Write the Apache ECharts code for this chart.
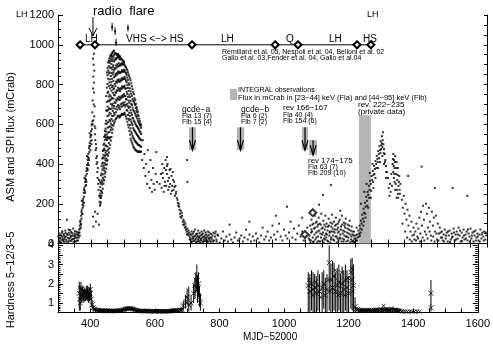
<!DOCTYPE html>
<html><head><meta charset="utf-8">
<script src="https://cdn.jsdelivr.net/npm/echarts@6/dist/echarts.min.js"></script>
<style>html,body{margin:0;padding:0;background:#fff}#c{width:493px;height:347px}</style>
</head><body><div id="c"></div>
<script>
// ---------------- DATA ----------------
const xTickLabels = [400, 600, 800, 1000, 1200, 1400, 1600];
const fluxTickLabels = ['0', '200', '400', '600', '800', '1000', '1200'];
const hardTickLabels = ['1', '2', '3', '4'];

// ASM flux (mCrab) vs MJD-52000
const asmQuiet = [[304,25],[306,8],[308,42],[310,18],[312,55],[314,30],[316,12],[318,40],[320,22],[322,65],[324,35],[326,10],[327,120],[328,48],[330,28],[332,70],[334,15],[336,45],[338,32],[340,58],[342,20],[344,40],[346,75],[348,25],[350,50],[352,35],[354,10],[356,60],[358,30],[360,45],
[301,35],[303,12],[305,50],[307,28],[309,5],[311,38],[313,62],[315,20],[317,48],[319,8],[321,33],[323,52],[325,18],[329,42],[331,6],[333,55],[335,25],[337,68],[339,12],[341,38],[343,52],[345,22],[347,8],[349,40],[351,62],[353,28],[355,45],[357,15],[359,55]];
const asmRise = [[361,15],[362,40],[363,30],[364,70],[365,55],[366,90],[367,75],[368,115],[369,100],[370,140],[371,125],[372,170],[373,150],[374,195],[375,180],[376,225],[377,205],[378,255],[379,235],[380,280],[381,265],[382,310],[383,290],[384,340],[385,320],[386,365],[387,350],[388,395],[389,375],[390,420],[391,405],[392,450],[393,430],[394,480],[395,460],[396,505],[397,490],[398,535],[399,515],[400,565],[401,545],[402,595],[403,575],[404,615],[366,40],[370,95],[374,150],[378,205],[382,255],[386,310],[390,370],[394,420],[398,470],[402,520],[372,215],[380,330],[388,440],[396,555],
[363,55],[367,110],[371,160],[375,215],[379,270],[383,325],[387,380],[391,435],[395,490],[399,545],[403,600],[369,80],[377,190],[385,295],[393,395],[401,500]];
const asmSpike = [[404,660],[405,720],[406,780],[407,840],[408,900],[409,955],[408,700],[407,620],[409,760],[410,870],[406,930],[410,640],[411,690],[405,600],[409,810]];
const asmDrop = [[411,590],[412,550],[413,520],[414,470],[415,500],[416,430],[417,400],[418,440],[419,360],[420,330],[421,380],[422,300],[423,270],[424,320],[425,240],[426,210],[427,190],[428,230],[413,580],[416,480],[419,410],[406,135],[407,85],[412,160],[415,110],[420,150],[424,95]];
// main outburst: [MJD, flux] columns
const asmHump = [
[428,197],[428,238],[428,251],[428,284],[428,309],
[430,206],[430,229],[430,266],[430,301],[430,343],
[432,241],[432,262],[432,318],[432,352],[432,389],
[434,255],[434,297],[434,309],[434,371],[434,402],[434,428],
[436,276],[436,331],[436,348],[436,407],[436,433],[436,466],
[438,301],[438,322],[438,379],[438,392],[438,446],[438,471],[438,497],
[440,318],[440,367],[440,381],[440,429],[440,478],[440,503],[440,536],
[442,336],[442,352],[442,404],[442,441],[442,469],[442,522],[442,548],[442,566],
[444,361],[444,396],[444,418],[444,457],[444,493],[444,541],[444,577],[444,603],
[446,377],[446,428],[446,446],[446,492],[446,531],[446,563],[446,618],[446,671],[446,742],
[448,398],[448,417],[448,466],[448,521],[448,548],[448,603],[448,667],[448,712],[448,784],[448,861],
[450,419],[450,451],[450,488],[450,536],[450,583],[450,641],[450,689],[450,758],[450,803],[450,847],[450,884],
[452,441],[452,473],[452,529],[452,558],[452,611],[452,672],[452,718],[452,764],[452,829],[452,871],[452,912],
[454,458],[454,506],[454,533],[454,587],[454,646],[454,681],[454,739],[454,792],[454,856],[454,893],[454,921],
[456,479],[456,528],[456,561],[456,622],[456,658],[456,716],[456,749],[456,811],[456,862],[456,909],[456,932],
[458,497],[458,534],[458,589],[458,617],[458,677],[458,724],[458,781],[458,826],[458,884],[458,917],[458,943],
[460,518],[460,571],[460,604],[460,653],[460,702],[460,741],[460,797],[460,843],[460,886],[460,927],[460,948],
[462,536],[462,583],[462,627],[462,679],[462,726],[462,769],[462,812],[462,858],[462,903],[462,936],[462,953],
[464,557],[464,596],[464,642],[464,694],[464,733],[464,787],[464,829],[464,876],[464,918],[464,944],[464,959],
[466,574],[466,618],[466,667],[466,703],[466,758],[466,794],[466,851],[466,889],[466,927],[466,962],
[468,593],[468,642],[468,681],[468,729],[468,776],[468,818],[468,862],[468,897],[468,938],[468,968],
[470,604],[470,657],[470,692],[470,748],[470,781],[470,837],[470,874],[470,916],[470,948],[470,971],
[472,613],[472,649],[472,711],[472,746],[472,803],[472,841],[472,883],[472,922],[472,957],
[474,624],[474,678],[474,707],[474,761],[474,792],[474,852],[474,879],[474,931],[474,958],
[476,628],[476,661],[476,723],[476,759],[476,814],[476,846],[476,896],[476,928],[476,955],
[478,633],[478,689],[478,718],[478,771],[478,809],[478,858],[478,887],[478,934],[478,951],
[480,639],[480,674],[480,731],[480,768],[480,822],[480,851],[480,902],[480,937],[480,949],
[482,642],[482,697],[482,728],[482,784],[482,817],[482,866],[482,893],[482,941],[482,954],
[484,644],[484,683],[484,739],[484,772],[484,826],[484,859],[484,907],[484,938],[484,946],
[486,634],[486,691],[486,722],[486,779],[486,813],[486,864],[486,892],[486,929],[486,944],
[488,638],[488,676],[488,734],[488,768],[488,821],[488,857],[488,898],[488,926],[488,941],
[490,643],[490,701],[490,729],[490,782],[490,817],[490,861],[490,904],[490,933],
[492,648],[492,688],[492,741],[492,776],[492,829],[492,864],[492,897],[492,930],
[494,653],[494,704],[494,736],[494,791],[494,823],[494,872],[494,908],[494,926],
[496,648],[496,693],[496,747],[496,782],[496,834],[496,867],[496,901],[496,922],
[498,649],[498,708],[498,738],[498,789],[498,827],[498,863],[498,906],[498,918],
[500,653],[500,697],[500,751],[500,786],[500,831],[500,874],[500,902],[500,913],
[502,658],[502,711],[502,743],[502,794],[502,838],[502,869],[502,897],
[504,648],[504,689],[504,742],[504,779],[504,828],[504,862],[504,891],
[506,639],[506,698],[506,727],[506,781],[506,819],[506,857],[506,887],
[508,628],[508,672],[508,724],[508,763],[508,812],[508,849],[508,878],
[510,613],[510,668],[510,703],[510,752],[510,797],[510,836],[510,872],
[512,598],[512,647],[512,691],[512,738],[512,783],[512,824],[512,862],
[514,584],[514,628],[514,682],[514,719],[514,768],[514,807],[514,851],
[516,567],[516,621],[516,658],[516,709],[516,749],[516,798],[516,842],
[518,548],[518,597],[518,643],[518,688],[518,737],[518,781],[518,831],
[520,528],[520,579],[520,624],[520,671],[520,718],[520,766],[520,821],
[522,518],[522,562],[522,613],[522,658],[522,703],[522,754],[522,806],
[524,507],[524,553],[524,604],[524,647],[524,697],[524,743],[524,791],
[526,498],[526,541],[526,596],[526,633],[526,684],[526,728],[526,777],
[528,488],[528,532],[528,581],[528,629],[528,673],[528,719],[528,762],
[530,483],[530,527],[530,572],[530,618],[530,667],[530,713],[530,752],
[532,477],[532,519],[532,568],[532,612],[532,659],[532,704],[532,731],
[534,472],[534,514],[534,563],[534,604],[534,653],[534,697],[534,722],
[536,469],[536,511],[536,557],[536,598],[536,644],[536,682],[536,703],
[538,467],[538,506],[538,552],[538,591],[538,637],[538,669],[538,687],
[540,464],[540,503],[540,546],[540,588],[540,629],[540,661],[540,676],
[542,461],[542,498],[542,541],[542,582],[542,618],[542,648],[542,663],
[544,463],[544,496],[544,537],[544,576],[544,611],[544,642],
[546,463],[546,494],[546,531],[546,569],[546,603],[546,628],
[548,461],[548,492],[548,527],[548,563],[548,597],[548,616],
[550,461],[550,489],[550,524],[550,558],[550,589],[550,604],
[552,463],[552,487],[552,519],[552,551],[552,582],[552,597]];
const asmDecline = [[555,420],[557,520],[560,380],[562,450],[565,340],[567,400],[570,300],[572,470],[575,360],[578,280],[580,420],[583,320],[585,260],[588,380],[590,300],[593,270],[596,350],[598,460],[600,310],
[608,300],[612,350],[614,280],[616,400],[618,330],[620,260],[622,380],[624,310],[626,420],[628,290],[630,350],[632,400],[634,270],[636,330],[638,370],[640,300],[642,250],[644,340],[646,290],[648,360],[650,270],[652,310],[654,240],[656,290],[658,260],[660,230],[630,435],[630,390],
[617,355],[623,290],[627,370],[633,315],[637,285],[641,375],[645,265],[649,320],[653,285],[657,250],
[662,220],[664,190],[666,200],[668,170],[670,150],[672,165],[674,130],[676,140],[678,110],[680,120],[682,95],[684,80],[686,100],[688,70],[690,60],[692,75],[694,50],[696,40],[698,55],[700,30],[691,420],[692,310],
[663,205],[667,185],[671,135],[675,155],[679,95],[683,110],[687,85],[691,45],[695,65],[699,20]];
const asmLow = [[702,20],[704,45],[706,10],[708,35],[710,25],[712,60],[714,15],[716,40],[718,5],[720,30],[722,50],[724,20],[726,10],[728,35],[730,15],[733,25],[736,45],[740,10],[744,30],[748,20],[752,5],[756,25],[760,15],
[701,45],[703,8],[705,60],[707,25],[709,50],[711,12],[713,35],[715,70],[717,22],[719,48],[721,10],[723,38],[725,65],[727,28],[729,52],[731,5],[732,40],[734,18],[735,60],[737,30],[738,8],[739,50],[741,35],[742,20],[743,65],[745,12],[746,40],[747,55],[749,28],[750,45],[751,15],[753,35],[754,60],[755,10],[757,42],[758,25],[759,55],[761,30],[763,8],[764,48],[766,20],[768,40],[771,55],[773,15],[776,35],[778,60],[781,10],[783,45],
[765,30],[770,10],[775,50],[780,20],[785,40],[790,5],[795,25],[800,60],[805,15],[810,35],[815,10],[820,45],[825,20],[830,5],[835,30],[840,55],[845,15],[850,25],[855,40],[860,10],[865,30],[870,70],[875,20],[880,45],[885,10],[890,35],[895,15],[900,50],[905,25],[910,5],[915,40],[920,80],[925,20],[930,35],[935,60],[940,15],[945,30],[950,90],[955,45],[960,20],[965,60],[970,100],[975,35],[980,15],[985,70],[990,40],[995,25],[1000,55],[1005,110],[1010,30],[1015,75],[1020,20],[1025,50],[1030,90],[1035,35],[1040,60],[1045,15],[1050,40],[1055,80],[1060,25],
[1062,40],[1064,90],[1066,15],[1068,120],[1070,60],[1072,30],[1074,100],[1076,75],[1078,140],[1080,20],[1082,55],[1084,110],[1086,85],[1088,35],[1090,130],[1092,65],[1094,10],[1096,95],[1098,150],[1100,45],[1102,80],[1104,115],[1106,25],[1108,70],[1110,140],[1112,50],[1114,100],[1116,15],[1118,85],[1120,125],[1122,40],[1124,60],[1126,105],[1128,30],[1130,145],[1132,75],[1134,20],[1136,110],[1138,55],[1140,90],[1142,130],[1144,35],[1146,70],[1148,100],[1150,15],[1152,60],[1154,120],[1156,45],[1158,85],[1160,140],[1162,25],[1164,65],[1166,105],[1168,40],[1170,80],[1172,125],[1174,10],[1176,55],[1178,95],[1180,30],[1182,70],[1184,115],[1186,45],[1188,20],[1190,85],[1192,60],[1194,10],[1196,40],[1198,25],
[1065,5],[1075,10],[1085,5],[1095,50],[1105,5],[1115,45],[1125,5],[1135,60],[1145,5],[1155,25],[1165,10],[1175,35],[1185,5],[1195,15],[1068,70],[1088,95],[1108,40],[1128,85],[1148,55],[1168,90],
[1063,18],[1067,55],[1071,95],[1073,8],[1077,45],[1079,80],[1081,105],[1083,30],[1087,60],[1089,12],[1093,100],[1097,30],[1099,75],[1101,15],[1103,55],[1107,95],[1109,20],[1111,85],[1113,30],[1117,65],[1119,10],[1121,90],[1123,55],[1127,20],[1129,60],[1131,100],[1133,40],[1137,15],[1139,70],[1141,35],[1143,95],[1147,25],[1149,80],[1151,110],[1153,30],[1157,70],[1159,10],[1161,95],[1163,50],[1167,20],[1169,60],[1171,100],[1173,35],[1177,75],[1179,15],[1181,50],[1183,90],[1187,65],[1189,35],[1191,10],[1193,45],[1197,60],[1199,5],
[994,185],[1091,195],[1103,245],[1127,295],[1155,165],[1040,130],[960,140],[880,110],[820,95]];
const asmRise2 = [[1200,8],[1202,25],[1204,15],[1206,45],[1208,30],[1210,65],[1212,50],[1214,90],[1216,75],[1218,115],[1220,100],[1222,145],[1224,125],[1226,175],[1228,155],[1230,205],[1232,185],[1234,235],[1236,215],[1238,260],[1240,245],[1242,290],[1244,270],[1246,315],[1248,300],[1250,340],[1252,320],[1254,365],[1256,345],[1258,390],[1260,375],[1262,415],[1264,400],[1266,440],[1268,425],[1270,465],[1272,450],[1274,490],[1276,470],[1278,515],[1280,495],[1282,540],[1284,520],[1286,500],[1288,475],[1290,450],[1292,420],[1294,390],[1296,360],
[1205,80],[1215,40],[1225,90],[1232,130],[1240,180],[1248,230],[1256,280],[1262,330],[1270,380],[1276,410],[1283,440],[1288,400],[1294,330],[1235,300],[1245,355],[1253,400],[1228,260],[1218,200],[1285,560],
[1201,40],[1207,15],[1211,35],[1217,55],[1221,70],[1227,110],[1231,150],[1237,190],[1243,230],[1249,265],[1255,310],[1259,350],[1265,380],[1269,410],[1273,430],[1277,455],[1279,475],[1281,505],[1283,485],[1287,455],[1291,410],[1295,360]];
const asmBranch2 = [[1300,330],[1302,280],[1304,240],[1306,300],[1308,260],[1310,350],[1312,290],[1314,400],[1316,450],[1318,420],[1320,380],[1322,440],[1324,350],[1326,410],[1328,320],[1330,380],[1332,290],[1334,340],[1336,250],[1338,300],[1318,330],[1322,270],[1326,230],[1330,250],[1316,360],[1320,310],
[1315,425],[1317,390],[1319,350],[1321,410],[1323,300],[1325,380],[1327,270],[1329,345],[1331,230],[1333,310],[1335,270]];
const asmTail = [[1342,220],[1345,180],[1348,240],[1350,150],[1353,200],[1356,120],[1359,170],[1361,340],[1362,90],[1365,140],[1368,60],[1371,110],[1374,40],[1377,80],[1380,20],[1383,60],[1386,100],[1389,35],[1392,75],[1395,130],[1398,50],[1402,387],[1400,160],[1403,90],[1406,190],[1409,120],[1412,60],[1415,200],[1418,150],[1421,80],[1424,180],[1427,110],[1430,40],[1433,160],[1436,90],[1439,130],[1442,280],[1442,60],[1445,140],[1448,20],[1451,100],[1454,50],[1457,80],[1460,30],[1463,60],[1466,15],[1469,45],[1472,70],[1475,25],[1478,55],[1481,10],[1484,40],[1487,65],[1490,20],[1493,50],[1496,280],[1496,35],[1499,75],[1502,15],[1505,45],[1508,60],[1511,25],[1514,80],[1517,40],[1520,10],[1523,55],[1526,30],[1529,70],[1532,20],[1535,45],[1538,60],[1540,240],[1541,15],[1544,50],[1547,35],[1550,75],[1553,25],[1556,55],[1559,10],[1562,40],[1565,65],[1568,30],[1571,50],[1574,15],[1577,45],[1580,70],[1583,25],[1586,55],[1589,35],[1592,60],[1595,20],[1598,40],
[1344,100],[1352,60],[1358,30],[1366,20],[1372,10],[1379,45],[1385,15],[1391,25],[1397,10],[1405,30],[1410,15],[1416,45],[1420,25],[1426,60],[1431,15],[1437,35],[1441,10],[1447,50],[1453,15],[1459,55],[1464,30],[1470,10],[1476,40],[1482,60],[1488,8],[1494,30],[1500,55],[1506,20],[1512,45],[1518,65],[1524,12],[1530,40],[1536,25],[1542,70],[1548,10],[1554,40],[1560,60],[1566,15],[1572,35],[1578,10],[1584,45],[1590,15],[1596,55]];
const asmHighErr = [[464,1090,1070,1110],[473,1068,1050,1088],[512,1085,1068,1102],[476,1010,995,1030]];

const spiPoints = [[1048,45],[1072,155]];
const stateX = [367,412,706,958,1027,1206,1248];
const stateLevel = 1000;
// INTEGRAL observation markers: [mjdStart, mjdEnd, fluxLow, fluxHigh]
const integralBars = [[697,718,470,585],[842,864,470,585],[1039,1058,470,585],[1061,1085,445,520]];
const privateBar = [[1212,1248,0,645]];
const radioFlare = [[406,1140,1045]];

// Hardness 5-12/3-5: [mjd, value, low, high]
const hardErr = [[366,1.5,0.6,2.1],[369,1.0,0.6,1.6],[371,1.7,1.2,2.1],[374,1.4,1.0,1.8],[377,1.6,1.2,1.9],[380,1.3,1.0,1.7],[383,1.5,1.1,1.8],[386,1.4,1.1,1.7],[389,1.6,1.2,1.9],[392,1.5,1.1,1.9],[395,1.3,1.0,1.6],[398,1.5,1.1,1.8],[400,1.7,1.3,2.0],[403,1.2,0.9,1.6],[406,0.9,0.7,1.1],[409,0.75,0.6,0.9],
[688,0.85,0.6,1.1],[695,1.05,0.7,1.4],[700,1.3,0.9,1.75],[705,0.9,0.55,1.85],[712,1.0,0.6,1.4],[720,1.5,1.0,2.0],[724,1.9,1.2,2.3],[727,2.2,1.5,2.6],[730,2.4,1.6,3.0],[732,1.7,1.0,2.4],[735,2.0,1.3,2.6],[738,1.3,0.8,1.9],[741,1.0,0.6,1.5],
[1075,1.9,0.5,2.6],[1080,1.6,0.5,2.5],[1085,2.0,0.6,2.7],[1090,1.7,0.5,2.6],[1095,1.8,0.5,2.5],[1100,1.5,0.5,2.4],[1105,1.9,0.6,2.7],[1110,1.6,0.5,2.5],[1118,1.8,0.5,2.6],[1123,2.0,0.7,2.7],[1128,1.4,0.5,2.3],[1133,1.7,0.5,2.5],[1140,3.1,0.6,4.0],[1145,2.2,0.5,3.0],[1150,1.8,0.5,3.2],[1155,2.4,0.6,3.1],[1160,1.6,0.5,2.6],[1165,1.9,0.5,2.8],[1170,2.1,0.6,3.0],[1175,1.5,0.5,2.5],[1180,2.0,0.5,2.9],[1185,1.7,0.5,2.7],[1190,2.2,0.6,3.0],[1195,1.8,0.5,2.7],[1200,1.5,0.5,2.4],[1207,2.6,0.7,3.3],[1211,2.2,0.6,3.35],[1215,1.9,0.5,3.0],[1220,0.8,0.5,1.3],
[1455,1.5,0.9,2.2],[1455,0.75,0.55,0.95]];
const hardPts = [[367,1.2],[368,1.8],[372,1.3],[375,1.75],[378,1.2],[381,1.6],[384,1.35],[387,1.55],[390,1.25],[393,1.7],[396,1.45],[399,1.3],
[412,0.7],[416,0.65],[420,0.62],[424,0.6],[428,0.63],[432,0.58],[436,0.61],[440,0.57],[444,0.6],[448,0.58],[452,0.6],[456,0.57],[460,0.59],[464,0.56],[468,0.58],[472,0.6],[476,0.57],[480,0.59],[484,0.58],[488,0.6],[492,0.61],[496,0.6],[500,0.63],[504,0.65],[508,0.68],[512,0.7],[516,0.72],[520,0.7],[524,0.73],[528,0.69],[532,0.7],[536,0.66],[540,0.63],[544,0.6],[548,0.58],[552,0.6],[556,0.57],[560,0.59],[564,0.56],[568,0.58],[572,0.57],[576,0.6],[580,0.58],[584,0.56],[588,0.57],[592,0.55],[596,0.57],[600,0.56],[604,0.58],[608,0.57],[612,0.55],[616,0.56],[620,0.58],[624,0.56],[628,0.55],[632,0.57],[636,0.56],[640,0.58],[644,0.56],[648,0.57],[652,0.6],[656,0.58],[660,0.61],[664,0.59],[668,0.62],[672,0.6],[676,0.64],[680,0.62],[684,0.66],
[414,0.67],[418,0.6],[422,0.64],[426,0.59],[430,0.6],[434,0.62],[438,0.58],[442,0.6],[446,0.56],[450,0.61],[454,0.58],[458,0.6],[462,0.58],[466,0.6],[470,0.57],[474,0.59],[478,0.6],[482,0.57],[486,0.6],[490,0.58],[494,0.62],[498,0.6],[502,0.66],[506,0.64],[510,0.71],[514,0.68],[518,0.74],[522,0.69],[526,0.71],[530,0.67],[534,0.68],[538,0.64],[542,0.6],[546,0.61],[550,0.58],[554,0.59],[558,0.56],[562,0.58],[566,0.57],[570,0.59],[574,0.56],[578,0.58],[582,0.57],[586,0.55],[590,0.58],[594,0.56],[598,0.55],[602,0.57],[606,0.56],[610,0.58],[614,0.57],[618,0.55],[622,0.57],[626,0.56],[630,0.58],[634,0.55],[638,0.57],[642,0.56],[646,0.58],[650,0.56],[654,0.59],[658,0.6],[662,0.58],[666,0.61],[670,0.63],[674,0.61],[678,0.65],[682,0.63],
[1078,2.2],[1088,1.4],[1098,2.1],[1113,1.3],[1137,2.2],[1143,1.6],[1158,2.7],[1168,1.4],[1178,2.6],[1188,1.4],[1198,2.3],[1209,2.8],[1213,1.6],
[1224,0.7],[1228,0.65],[1232,0.6],[1236,0.63],[1240,0.58],[1244,0.62],[1248,0.6],[1252,0.57],[1256,0.61],[1260,0.6],[1264,0.64],[1268,0.6],[1272,0.62],[1276,0.58],[1280,0.61],[1284,0.65],[1288,0.6],[1292,0.63],[1296,0.6],[1300,0.66],[1304,0.62],[1308,0.85],[1312,0.65],[1316,0.6],[1320,0.68],[1324,0.63],[1328,0.6],[1332,0.7],[1336,0.64],[1340,0.62],[1344,0.66],[1348,0.6],[1352,0.63],[1356,0.58],[1360,0.6],[1364,0.56],[1368,0.55],[1375,0.56],[1382,0.55],[1390,0.56],[1397,0.55],[1404,0.55],[1412,0.56],[1420,0.55],
[1226,0.62],[1230,0.68],[1234,0.58],[1238,0.61],[1242,0.64],[1246,0.57],[1250,0.62],[1254,0.6],[1258,0.58],[1262,0.62],[1266,0.58],[1270,0.64],[1274,0.6],[1278,0.63],[1282,0.59],[1286,0.62],[1290,0.66],[1294,0.61],[1298,0.64],[1302,0.6],[1306,0.67],[1310,0.62],[1314,0.68],[1318,0.64],[1322,0.6],[1326,0.66],[1330,0.62],[1334,0.67],[1338,0.6],[1342,0.64],[1346,0.62],[1350,0.59],[1354,0.61]];

// ---------------- CHART ----------------
const FONT = 'Liberation Sans, DejaVu Sans, sans-serif';
const asmAll = [].concat(asmQuiet, asmRise, asmSpike, asmDrop, asmHump, asmDecline, asmLow, asmRise2, asmBranch2, asmTail);

function rectItem(fill) {
  return function (params, api) {
    const p0 = api.coord([api.value(0), api.value(3)]);
    const p1 = api.coord([api.value(1), api.value(2)]);
    return { type: 'rect', shape: { x: p0[0], y: p0[1], width: p1[0] - p0[0], height: p1[1] - p0[1] }, style: { fill: fill } };
  };
}
function arrowItem(params, api) {
  const xm = (api.value(0) + api.value(1)) / 2;
  const top = api.coord([xm, api.value(3)]);
  const bot = api.coord([xm, api.value(2)]);
  const s = { stroke: '#000', lineWidth: 1.2, fill: 'none' };
  return { type: 'group', children: [
    { type: 'line', shape: { x1: top[0], y1: top[1], x2: bot[0], y2: bot[1] }, style: s },
    { type: 'polyline', shape: { points: [[bot[0] - 3, bot[1] - 10], [bot[0], bot[1]], [bot[0] + 3, bot[1] - 10]] }, style: s }
  ]};
}
function flareArrow(params, api) {
  const top = api.coord([api.value(0), api.value(1)]);
  const bot = api.coord([api.value(0), api.value(2)]);
  const s = { stroke: '#000', lineWidth: 1, fill: 'none' };
  return { type: 'group', children: [
    { type: 'line', shape: { x1: top[0], y1: top[1], x2: bot[0], y2: bot[1] }, style: s },
    { type: 'polyline', shape: { points: [[bot[0] - 4, bot[1] - 8], [bot[0], bot[1]], [bot[0] + 4, bot[1] - 8]] }, style: s }
  ]};
}
function errItem(params, api) {
  const lo = api.coord([api.value(0), api.value(2)]);
  const hi = api.coord([api.value(0), api.value(3)]);
  return { type: 'line', shape: { x1: lo[0], y1: lo[1], x2: hi[0], y2: hi[1] }, style: { stroke: '#000', lineWidth: 1 } };
}

const axisLine = { show: true, lineStyle: { color: '#000', width: 1 } };
function xAx(grid, pos, labels) {
  return { type: 'value', gridIndex: grid, position: pos, min: 300, max: 1600, interval: 50,
    axisLine: axisLine, splitLine: { show: false },
    axisTick: { show: true, inside: true, length: 4, lineStyle: { color: '#000' } },
    axisLabel: labels ? { show: true, color: '#000', fontFamily: FONT, fontSize: 11, margin: 6,
      formatter: v => (xTickLabels.indexOf(v) >= 0 ? String(v) : '') } : { show: false } };
}

const cross = 'path://M0,0L10,10M10,0L0,10';
const option = {
  animation: false,
  backgroundColor: '#fff',
  grid: [
    { left: 58, top: 15, width: 429, height: 228.5 },
    { left: 58, top: 243.5, width: 429, height: 69 }
  ],
  xAxis: [xAx(0, 'bottom', false), xAx(0, 'top', false), xAx(1, 'bottom', true)],
  yAxis: [
    { type: 'value', gridIndex: 0, position: 'left', min: 0, max: 1150, interval: 200,
      axisLine: axisLine, splitLine: { show: false },
      axisTick: { show: true, inside: true, length: 5, lineStyle: { color: '#000' } },
      minorTick: { show: true, splitNumber: 5, length: 3, lineStyle: { color: '#000' } },
      axisLabel: { color: '#000', fontFamily: FONT, fontSize: 11, margin: 4, formatter: (v, i) => fluxTickLabels[i] } },
    { type: 'value', gridIndex: 0, position: 'right', min: 0, max: 1150, interval: 50,
      axisLine: axisLine, splitLine: { show: false },
      axisTick: { show: true, inside: true, length: 3, lineStyle: { color: '#000' } }, axisLabel: { show: false } },
    { type: 'value', gridIndex: 1, position: 'left', min: 0.5, max: 4.1, interval: 0.5,
      axisLine: axisLine, splitLine: { show: false },
      axisTick: { show: true, inside: true, length: 5, lineStyle: { color: '#000' } },
      minorTick: { show: true, splitNumber: 5, length: 2.5, lineStyle: { color: '#000' } },
      axisLabel: { color: '#000', fontFamily: FONT, fontSize: 11, margin: 4,
        formatter: v => (hardTickLabels.indexOf(String(v)) >= 0 ? String(v) : '') } },
    { type: 'value', gridIndex: 1, position: 'right', min: 0.5, max: 4.1, interval: 0.5,
      axisLine: axisLine, splitLine: { show: false },
      axisTick: { show: true, inside: true, length: 5, lineStyle: { color: '#000' } },
      minorTick: { show: true, splitNumber: 5, length: 2.5, lineStyle: { color: '#000' } },
      axisLabel: { show: false } }
  ],
  series: [
    { type: 'custom', xAxisIndex: 0, yAxisIndex: 0, renderItem: rectItem('#b4b4b4'), data: privateBar, z: 1 },
    { type: 'custom', xAxisIndex: 0, yAxisIndex: 0, renderItem: rectItem('#b4b4b4'), data: integralBars, z: 1 },
    { type: 'custom', xAxisIndex: 0, yAxisIndex: 0, renderItem: arrowItem, data: integralBars, z: 3 },
    { type: 'custom', xAxisIndex: 0, yAxisIndex: 0, renderItem: flareArrow, data: radioFlare, z: 3 },
    { type: 'scatter', xAxisIndex: 0, yAxisIndex: 0, data: asmAll, symbol: 'rect', symbolSize: 2,
      itemStyle: { color: '#000' }, z: 2 },
    { type: 'custom', xAxisIndex: 0, yAxisIndex: 0, renderItem: errItem, data: asmHighErr, z: 2 },
    { type: 'scatter', xAxisIndex: 0, yAxisIndex: 0, data: asmHighErr.map(d => [d[0], d[1]]), symbol: 'rect', symbolSize: 2,
      itemStyle: { color: '#000' }, z: 2 },
    { type: 'line', xAxisIndex: 0, yAxisIndex: 0, data: stateX.map(x => [x, stateLevel]),
      symbol: 'emptyDiamond', symbolSize: 7, lineStyle: { color: '#000', width: 1 },
      itemStyle: { color: '#000', borderWidth: 1 }, z: 4 },
    { type: 'scatter', xAxisIndex: 0, yAxisIndex: 0, data: spiPoints, symbol: 'emptyDiamond', symbolSize: 7,
      itemStyle: { color: '#000', borderColor: '#000', borderWidth: 1.6 }, z: 4 },
    { type: 'custom', xAxisIndex: 2, yAxisIndex: 2, renderItem: errItem, data: hardErr, clip: true, z: 2 },
    { type: 'scatter', xAxisIndex: 2, yAxisIndex: 2, data: hardErr.map(d => [d[0], d[1]]), symbol: cross, symbolSize: 5,
      itemStyle: { color: 'transparent', borderColor: '#000', borderWidth: 1 }, z: 3 },
    { type: 'scatter', xAxisIndex: 2, yAxisIndex: 2, data: hardPts, symbol: cross, symbolSize: 4,
      itemStyle: { color: 'transparent', borderColor: '#000', borderWidth: 1 }, z: 3 }
  ],
  graphic: [
    { type: 'text', left: 16, top: 10, style: { text: 'LH', font: '9px ' + FONT, fill: '#000' } },
    { type: 'text', left: 367, top: 10, style: { text: 'LH', font: '9px ' + FONT, fill: '#000' } },
    { type: 'text', left: 93, top: 5, style: { text: 'radio  flare', font: '13px ' + FONT, fill: '#000' } },
    { type: 'text', left: 85, top: 34, style: { text: 'LH', font: '10px ' + FONT, fill: '#000' } },
    { type: 'text', left: 126, top: 34, style: { text: 'VHS <\u2212> HS', font: '10px ' + FONT, fill: '#000' } },
    { type: 'text', left: 221, top: 34, style: { text: 'LH', font: '10px ' + FONT, fill: '#000' } },
    { type: 'text', left: 286, top: 34, style: { text: 'Q', font: '10px ' + FONT, fill: '#000' } },
    { type: 'text', left: 329, top: 34, style: { text: 'LH', font: '10px ' + FONT, fill: '#000' } },
    { type: 'text', left: 363, top: 34, style: { text: 'HS', font: '10px ' + FONT, fill: '#000' } },
    { type: 'text', left: 222, top: 49, style: { text: 'Remillard et al. 05, Nespoli et al. 04, Belloni et al. 02', font: '7px ' + FONT, fill: '#000' } },
    { type: 'text', left: 222, top: 55, style: { text: 'Gallo et al. 03,Fender et al. 04, Gallo et al.04', font: '7px ' + FONT, fill: '#000' } },
    { type: 'rect', shape: { x: 230, y: 89, width: 7, height: 11 }, style: { fill: '#b4b4b4' } },
    { type: 'text', left: 238, top: 87, style: { text: 'INTEGRAL observations', font: '7px ' + FONT, fill: '#000' } },
    { type: 'text', left: 238, top: 94, style: { text: 'Flux in mCrab in [23\u221244] keV (Fla) and [44\u221295] keV (Flb)', font: '7.5px ' + FONT, fill: '#000' } },
    { type: 'text', left: 182, top: 105, style: { text: 'gcde\u2212a', font: '8.5px ' + FONT, fill: '#000' } },
    { type: 'text', left: 182, top: 113, style: { text: 'Fla 13 (7)', font: '7px ' + FONT, fill: '#000' } },
    { type: 'text', left: 182, top: 119, style: { text: 'Flb 15 (4)', font: '7px ' + FONT, fill: '#000' } },
    { type: 'text', left: 241, top: 105, style: { text: 'gcde\u2212b', font: '8.5px ' + FONT, fill: '#000' } },
    { type: 'text', left: 241, top: 113, style: { text: 'Fla 6 (2)', font: '7px ' + FONT, fill: '#000' } },
    { type: 'text', left: 241, top: 119, style: { text: 'Flb 7 (2)', font: '7px ' + FONT, fill: '#000' } },
    { type: 'text', left: 283, top: 104, style: { text: 'rev 166\u2212167', font: '8px ' + FONT, fill: '#000' } },
    { type: 'text', left: 283, top: 112, style: { text: 'Fla 40 (4)', font: '7px ' + FONT, fill: '#000' } },
    { type: 'text', left: 283, top: 118, style: { text: 'Flb 154 (6)', font: '7px ' + FONT, fill: '#000' } },
    { type: 'text', left: 308, top: 157, style: { text: 'rev 174\u2212175', font: '8px ' + FONT, fill: '#000' } },
    { type: 'text', left: 308, top: 164, style: { text: 'Fla 63 (7)', font: '7px ' + FONT, fill: '#000' } },
    { type: 'text', left: 308, top: 170, style: { text: 'Flb 209 (10)', font: '7px ' + FONT, fill: '#000' } },
    { type: 'text', left: 358, top: 101, style: { text: 'rev. 222\u2212235', font: '8px ' + FONT, fill: '#000' } },
    { type: 'text', left: 358, top: 108, style: { text: '(private data)', font: '8px ' + FONT, fill: '#000' } },
    { type: 'text', x: 11, y: 137, rotation: Math.PI / 2, style: { text: 'ASM and SPI flux (mCrab)', font: '11px ' + FONT, fill: '#000', align: 'center', verticalAlign: 'middle' } },
    { type: 'text', x: 11, y: 280, rotation: Math.PI / 2, style: { text: 'Hardness 5\u221212/3\u22125', font: '11px ' + FONT, fill: '#000', align: 'center', verticalAlign: 'middle' } },
    { type: 'text', left: 243, top: 332, style: { text: 'MJD\u221252000', font: '10px ' + FONT, fill: '#000' } }
  ]
};
const chart = echarts.init(document.getElementById('c'), null, { renderer: 'canvas' });
chart.setOption(option);
</script></body></html>
